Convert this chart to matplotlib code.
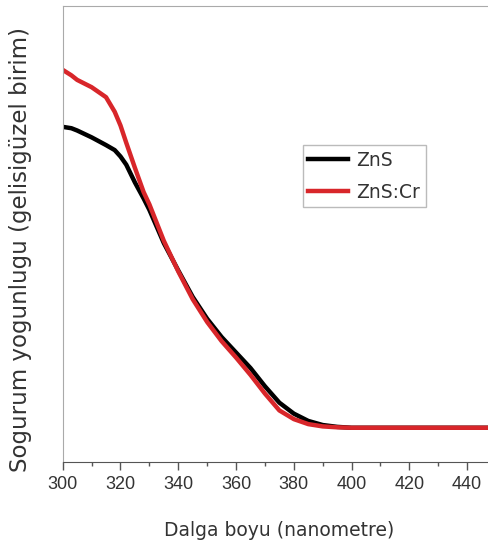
import matplotlib.pyplot as plt
from matplotlib.ticker import MultipleLocator

# wavelength (nm) and absorbance (arbitrary units)
wavelength = [300, 303, 305, 310, 315, 318, 320, 322, 325, 328, 330, 335, 340,
              345, 350, 355, 360, 365, 370, 375, 380, 385, 390, 395, 400, 450]
zns = [0.735, 0.732, 0.727, 0.712, 0.695, 0.684, 0.670, 0.652, 0.613, 0.578,
       0.553, 0.480, 0.420, 0.362, 0.314, 0.274, 0.240, 0.206, 0.166, 0.130,
       0.106, 0.090, 0.081, 0.077, 0.075, 0.075]
zns_cr = [0.860, 0.848, 0.838, 0.822, 0.800, 0.768, 0.738, 0.700, 0.645, 0.592,
          0.565, 0.485, 0.418, 0.357, 0.307, 0.265, 0.229, 0.191, 0.150, 0.113,
          0.094, 0.083, 0.078, 0.076, 0.075, 0.075]

xticks = [300, 320, 340, 360, 380, 400, 420, 440]

plt.rcParams['font.family'] = ['Liberation Sans', 'DejaVu Sans']

fig = plt.figure(figsize=(4.88, 5.48), dpi=100)
ax = fig.add_axes([0.1285, 0.157, 0.888, 0.832])

ax.plot(wavelength, zns, color='black', lw=3.2, label='ZnS')
ax.plot(wavelength, zns_cr, color='#d8262a', lw=3.2, label='ZnS:Cr')

ax.set_xlim(300, 450)
ax.set_ylim(0, 1)
ax.set_xticks(xticks)
ax.xaxis.set_minor_locator(MultipleLocator(10))
ax.set_yticks([])
ax.tick_params(axis='x', which='major', direction='out', length=6, width=1,
               color='#555555', labelsize=13, labelcolor='#333333', pad=4)
ax.tick_params(axis='x', which='minor', direction='out', length=3, width=1,
               color='#555555')

for side in ['left', 'top', 'right']:
    ax.spines[side].set_color('#aaaaaa')
ax.spines['bottom'].set_color('#555555')

ax.set_xlabel('Dalga boyu (nanometre)', fontsize=13.5, color='#333333',
              labelpad=20, family='DejaVu Sans')
ax.set_ylabel('Sogurum yogunlugu (gelisigüzel birim)', fontsize=16.5,
              color='#333333', family='DejaVu Sans')
ax.yaxis.set_label_coords(-0.072, 0.465)

leg = ax.legend(loc='upper left', bbox_to_anchor=(0.554, 0.695),
                borderaxespad=0, prop={'family': 'DejaVu Sans', 'size': 13.5},
                frameon=True, fancybox=False, edgecolor='#aaaaaa',
                handlelength=2.1, handletextpad=0.45, borderpad=0.3,
                labelspacing=0.7)
leg.get_frame().set_linewidth(1.0)
for t in leg.get_texts():
    t.set_color('#333333')

plt.savefig('out.png', dpi=100)
